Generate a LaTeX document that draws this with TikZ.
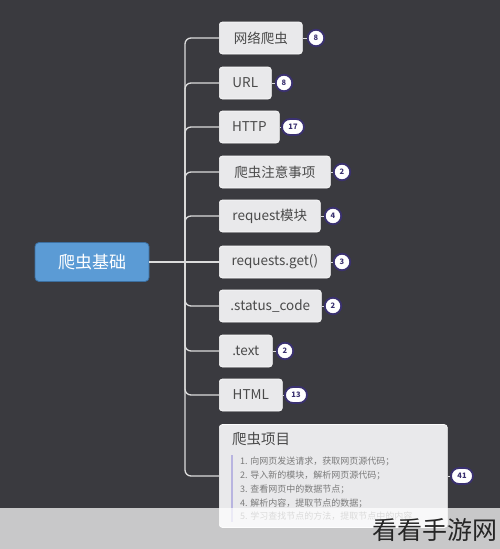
\documentclass[tikz,border=0pt]{standalone}
\usepackage{fontspec}
\setmainfont{Noto Sans CJK SC}
\definecolor{bgc}{HTML}{3A3A3F}
\definecolor{boxc}{HTML}{E9E9EB}
\definecolor{txtc}{HTML}{4A4A4A}
\definecolor{linec}{HTML}{DCDCDC}
\definecolor{badgec}{HTML}{3A3170}
\definecolor{rootc}{HTML}{5B9BD5}
\definecolor{rootb}{HTML}{3C6FA0}
\definecolor{itemc}{HTML}{7A7A7A}
\definecolor{barc}{HTML}{B8B4E0}
\begin{document}
\begin{tikzpicture}[x=1pt,y=-1pt,
  conn/.style={draw=linec, line width=1.3pt},
  dotconn/.style={draw=linec, line width=1pt},
  child/.style={fill=boxc, draw=white!85!boxc, line width=0.6pt, rounded corners=3pt, anchor=west, minimum height=32pt, inner xsep=0pt, text=txtc, font=\fontsize{13.5}{16}\selectfont},
  badge/.style={circle, draw=badgec, line width=1.8pt, fill=white, inner sep=0pt, minimum size=16.5pt, font=\fontsize{7.5}{8}\selectfont\bfseries, text=badgec},
  badgew/.style={rectangle, rounded corners=8pt, draw=badgec, line width=1.8pt, fill=white, inner sep=0pt, minimum width=22pt, minimum height=16pt, font=\fontsize{7.5}{8}\selectfont\bfseries, text=badgec},
  item/.style={anchor=west, inner sep=0pt, text=itemc, font=\fontsize{9}{10}\selectfont}]
\useasboundingbox (0,0) rectangle (500,549);
\fill[bgc] (0,0) rectangle (500,549);
% root
\node[fill=rootc, draw=rootb, line width=0.8pt, rounded corners=4pt, minimum width=114pt, minimum height=39pt, text=white, font=\fontsize{17}{20}\selectfont] (root) at (92,262) {爬虫基础};
% children
\node[child, minimum width=83pt] (c1) at (219,38) {网络爬虫};
\node[child, minimum width=52pt] (c2) at (219,83) {URL};
\node[child, minimum width=60pt] (c3) at (219,127) {HTTP};
\node[child, minimum width=111pt] (c4) at (219,172) {爬虫注意事项};
\node[child, minimum width=101pt] (c5) at (219,216) {request模块};
\node[child, minimum width=111pt] (c6) at (219,262) {requests.get()};
\node[child, minimum width=102pt] (c7) at (219,306) {.status\_code};
\node[child, minimum width=53pt] (c8) at (219,351) {.text};
\node[child, minimum width=63pt] (c9) at (219,395) {HTML};
\node[child, minimum width=228pt, minimum height=103pt] (c10) at (219,476) {};
% connectors
\coordinate (tr) at (185,262);
\draw[conn] (root.east) -- (c6.west);
\foreach \c in {c1,c2,c3,c4,c5,c7,c8,c9,c10}
  \draw[conn, rounded corners=6pt] (tr) |- (\c.west);
% badges
\node[badge] (b1) at (316,38) {8};
\node[badge] (b2) at (284,83) {8};
\node[badgew] (b3) at (293,127) {17};
\node[badge] (b4) at (342,172) {2};
\node[badge] (b5) at (333,216) {4};
\node[badge] (b6) at (342,262) {3};
\node[badge] (b7) at (333,306) {2};
\node[badge] (b8) at (285,351) {2};
\node[badgew] (b9) at (296,395) {13};
\node[badgew] (b10) at (462,476) {41};
\foreach \i in {1,...,10}
  \draw[dotconn] (c\i.east) -- (b\i.west);
% big box content
\node[anchor=west, inner sep=0pt, text=txtc, font=\fontsize{14.5}{17}\selectfont] (title) at (232,439) {爬虫项目};
\draw[barc, line width=1.6pt] (232,455) -- (232,522);
\node[item] (i1) at (240,461) {1. 向网页发送请求，获取网页源代码；};
\node[item] (i2) at (240,475) {2. 导入新的模块，解析网页源代码；};
\node[item] (i3) at (240,489) {3. 查看网页中的数据节点；};
\node[item] (i4) at (240,503) {4. 解析内容，提取节点的数据；};
\node[item] (i5) at (240,516) {5. 学习查找节点的方法，提取节点中的内容};
% watermark band
\fill[white, opacity=0.72] (0,508) rectangle (500,549);
\node[anchor=east, inner sep=0pt, text=black!85, font=\fontsize{25}{28}\selectfont] (wm) at (498,530) {看看手游网};
\end{tikzpicture}
\end{document}
